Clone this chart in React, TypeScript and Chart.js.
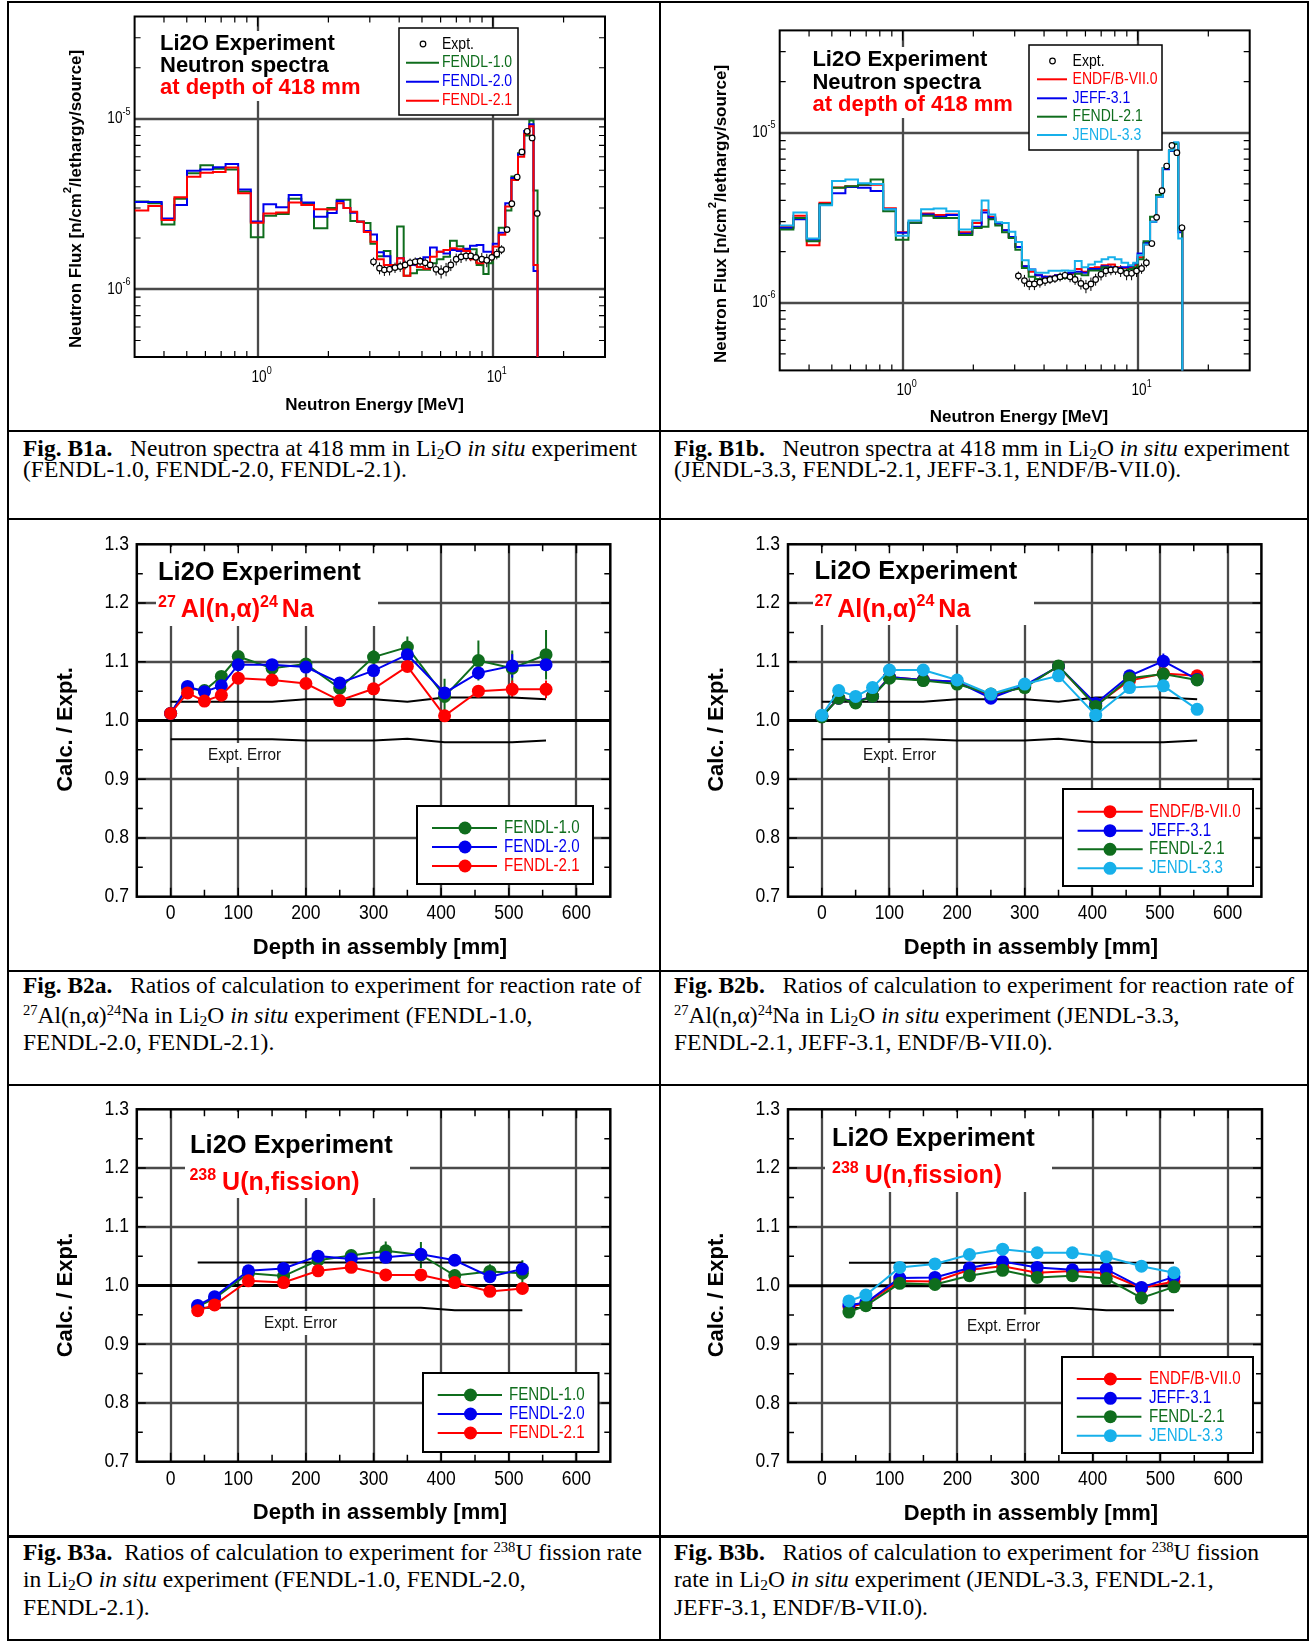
import React, { useEffect, useRef } from 'react';
import { Chart, registerables } from 'chart.js';

Chart.register(...registerables);

/* ---------------- fonts & colours ---------------- */
const SANS = '"Liberation Sans", Arial, Helvetica, sans-serif';
const SERIF = '"Liberation Serif", "Times New Roman", Times, serif';
const GREEN = '#0f6d1d';
const BLUE = '#0000ee';
const RED = '#ff0000';
const CYAN = '#17b0ea';
const GRID = '#4a4a4a';

/* ============ Fig. B1 : neutron spectra at 418 mm ============ */
/* flux values are in units of 1e-6 n/cm2/lethargy/source */
const FLUX_UNIT = 1e-6;
const SPEC_EDGES_MEV = [0.3, 0.343, 0.391, 0.443, 0.501, 0.571, 0.646, 0.731, 0.827, 0.936, 1.059, 1.199, 1.356, 1.535, 1.737,
  1.98, 2.17, 2.32, 2.48, 2.65, 2.83, 3.02, 3.22, 3.44, 3.67, 3.92, 4.18, 4.46, 4.76, 5.07, 5.41, 5.78, 6.17, 6.58, 7.03, 7.5, 8.0, 8.54, 9.12, 9.6,
  10.0, 10.6, 11.3, 12.0, 12.8, 13.6, 14.3, 14.9, 15.5];
const SPEC_TAIL = 1e-9; // beyond the source cut-off (off scale)

const B1A_FENDL10 = [3.28, 3.20, 2.40, 3.40, 4.80, 5.35, 5.10, 5.05, 3.75, 2.02, 2.70, 2.77, 3.40, 3.20, 2.28,
  3.00, 3.36, 3.36, 2.52, 2.50, 2.45, 1.85, 1.56, 1.68, 1.36, 2.34, 1.20, 1.24, 1.30, 1.30, 1.42, 1.50, 1.55, 1.93, 1.79, 1.70, 1.72, 1.39, 1.23, 1.42,
  1.55, 2.30, 2.90, 4.60, 6.30, 8.00, 9.80, 3.80];
const B1A_FENDL20 = [3.25, 3.25, 2.60, 3.13, 4.97, 5.05, 5.20, 5.44, 3.86, 2.50, 3.16, 3.03, 3.58, 3.23, 2.67,
  2.80, 3.30, 3.00, 2.81, 2.49, 2.20, 2.10, 1.65, 1.56, 1.36, 1.52, 1.42, 1.39, 1.50, 1.54, 1.76, 1.66, 1.62, 1.70, 1.68, 1.73, 1.80, 1.82, 1.66, 1.66,
  1.85, 2.15, 3.20, 4.50, 6.20, 8.50, 9.30, 1.28];
const B1A_FENDL21 = [2.90, 3.08, 2.55, 3.47, 4.58, 4.83, 4.88, 5.19, 3.66, 2.46, 2.79, 2.82, 3.23, 3.13, 2.95,
  2.94, 3.20, 3.00, 2.85, 2.49, 2.17, 1.90, 1.50, 1.39, 1.39, 1.52, 1.20, 1.40, 1.35, 1.32, 1.55, 1.66, 1.70, 1.74, 1.72, 1.68, 1.50, 1.42, 1.48, 1.50,
  1.78, 2.09, 3.06, 4.38, 6.00, 8.20, 9.06, 1.39];

const B1B_ENDF70 = [2.80, 3.25, 2.18, 3.87, 4.77, 4.85, 4.92, 4.95, 3.60, 2.60, 2.96, 3.35, 3.28, 3.30, 2.60,
  2.95, 3.50, 3.20, 2.93, 2.67, 2.44, 2.13, 1.64, 1.52, 1.45, 1.42, 1.42, 1.45, 1.45, 1.48, 1.58, 1.52, 1.60, 1.62, 1.66, 1.68, 1.62, 1.60, 1.62, 1.66,
  1.85, 2.20, 3.00, 4.30, 6.20, 7.90, 8.66, 2.68];
const B1B_JEFF31 = [2.75, 3.10, 2.35, 3.80, 4.40, 4.80, 4.75, 4.55, 3.55, 2.58, 2.96, 3.30, 3.20, 3.28, 2.55,
  2.80, 3.40, 3.15, 2.93, 2.67, 2.44, 2.13, 1.64, 1.57, 1.45, 1.42, 1.42, 1.45, 1.45, 1.50, 1.52, 1.50, 1.58, 1.58, 1.64, 1.62, 1.60, 1.62, 1.64, 1.70,
  1.95, 2.25, 3.00, 4.20, 6.10, 7.80, 8.70, 2.60];
const B1B_FENDL21 = [2.70, 3.15, 2.30, 3.80, 4.75, 4.85, 4.95, 5.30, 3.45, 2.35, 2.96, 3.25, 3.15, 3.15, 2.50,
  2.75, 2.80, 3.10, 2.85, 2.60, 2.40, 2.05, 1.60, 1.42, 1.38, 1.36, 1.36, 1.38, 1.40, 1.40, 1.48, 1.45, 1.55, 1.55, 1.62, 1.60, 1.58, 1.55, 1.58, 1.62,
  1.80, 2.30, 3.20, 4.30, 6.20, 7.90, 8.60, 2.70];
const B1B_JENDL33 = [2.85, 3.40, 2.39, 3.75, 5.20, 5.30, 5.05, 5.00, 3.55, 2.48, 3.05, 3.55, 3.59, 3.45, 2.70,
  3.05, 4.00, 3.30, 2.98, 2.95, 2.62, 2.28, 1.78, 1.57, 1.50, 1.50, 1.54, 1.54, 1.55, 1.54, 1.76, 1.62, 1.68, 1.74, 1.80, 1.85, 1.80, 1.72, 1.66, 1.72,
  1.90, 2.20, 3.00, 4.20, 6.20, 7.90, 8.80, 2.39];

const EXPT_ENERGY_MEV = [3.11, 3.30, 3.46, 3.64, 3.84, 4.04, 4.24, 4.45, 4.68, 4.91, 5.16, 5.42, 5.74, 6.03, 6.33, 6.63, 6.99, 7.33, 7.70, 8.06,
  8.47, 8.98, 9.43, 9.90, 10.4, 10.9, 11.5, 12.05, 12.7, 13.3, 14.0, 14.7, 15.45];
const B1A_EXPT = [1.45, 1.33, 1.30, 1.31, 1.34, 1.36, 1.39, 1.43, 1.45, 1.46, 1.43, 1.39, 1.31, 1.27, 1.31, 1.39, 1.50, 1.55, 1.57, 1.57,
  1.54, 1.50, 1.48, 1.54, 1.61, 1.71, 2.24, 3.18, 4.56, 6.41, 8.47, 7.74, 2.79];
const B1B_EXPT = [1.44, 1.35, 1.29, 1.29, 1.32, 1.35, 1.37, 1.39, 1.42, 1.45, 1.42, 1.37, 1.30, 1.25, 1.29, 1.37, 1.47, 1.54, 1.56, 1.57,
  1.54, 1.49, 1.49, 1.54, 1.59, 1.72, 2.23, 3.18, 4.56, 6.37, 8.42, 7.63, 2.76];
const EXPT_REL_ERR = [0.06, 0.08, 0.08, 0.08, 0.07, 0.07, 0.06, 0.06, 0.06, 0.06, 0.07, 0.07, 0.08, 0.09, 0.09, 0.08, 0.08, 0.08, 0.07, 0.07,
  0.08, 0.09, 0.09, 0.08, 0.07, 0.06, 0.04, 0.04, 0.03, 0.03, 0.03, 0.03, 0.05];

const SPEC_X_RANGE = [0.3, 30];
const SPEC_Y_RANGE = [4e-7, 4e-5];
const SPEC_X_MAJOR = [1, 10];
const SPEC_X_MAJOR_EXP = ['0', '1'];
const SPEC_Y_MAJOR = [1e-5, 1e-6];
const SPEC_Y_MAJOR_EXP = ['-5', '-6'];
const SPEC_X_MINOR = [0.4, 0.5, 0.6, 0.7, 0.8, 0.9, 2, 3, 4, 5, 6, 7, 8, 9, 20];
const SPEC_Y_MINOR = [5e-7, 6e-7, 7e-7, 8e-7, 9e-7, 2e-6, 3e-6, 4e-6, 5e-6, 6e-6, 7e-6, 8e-6, 9e-6, 2e-5, 3e-5];
const SPEC_TITLES = ['Li2O Experiment', 'Neutron spectra', 'at depth of 418 mm'];

/* ============ Fig. B2 : 27Al(n,a)24Na ratios ============ */
const AL_DEPTH_MM = [0, 25, 50, 75, 100, 150, 200, 250, 300, 350, 405, 455, 505, 555];
const AL_FENDL10 = [1.012, 1.055, 1.051, 1.075, 1.109, 1.089, 1.096, 1.055, 1.108, 1.125, 1.041, 1.102, 1.089, 1.112];
const AL_FENDL10_ERR = [0, 0, 0, 0, 0.008, 0, 0.006, 0, 0.012, 0.018, 0.03, 0.034, 0.03, 0.042];
const AL_FENDL20 = [1.012, 1.058, 1.049, 1.059, 1.095, 1.095, 1.091, 1.064, 1.085, 1.112, 1.047, 1.081, 1.093, 1.095];
const AL_FENDL20_ERR = [0, 0, 0, 0, 0, 0, 0, 0, 0, 0, 0, 0, 0.02, 0];
const AL_FENDL21 = [1.012, 1.047, 1.033, 1.043, 1.072, 1.069, 1.063, 1.034, 1.054, 1.092, 1.008, 1.050, 1.053, 1.053];
const AL_FENDL21_ERR = [0, 0, 0, 0, 0, 0, 0, 0, 0, 0, 0, 0, 0.015, 0.015];
const AL_ENDF70 = [1.007, 1.038, 1.032, 1.041, 1.074, 1.069, 1.066, 1.042, 1.058, 1.092, 1.026, 1.068, 1.080, 1.076];
const AL_JEFF31 = [1.007, 1.038, 1.032, 1.041, 1.074, 1.069, 1.066, 1.038, 1.060, 1.092, 1.029, 1.076, 1.101, 1.070];
const AL_JEFF31_ERR = [0, 0, 0, 0, 0, 0, 0, 0, 0, 0, 0, 0, 0.013, 0];
const AL_FENDL21B = [1.006, 1.038, 1.030, 1.041, 1.072, 1.068, 1.062, 1.045, 1.056, 1.093, 1.024, 1.072, 1.079, 1.069];
const AL_JENDL33 = [1.009, 1.051, 1.041, 1.056, 1.086, 1.086, 1.069, 1.045, 1.062, 1.076, 1.009, 1.056, 1.059, 1.019];
const AL_EXPT_ERR_X = [0, 150, 200, 300, 350, 405, 505, 555];
const AL_EXPT_ERR_UP = [1.032, 1.032, 1.036, 1.036, 1.032, 1.039, 1.039, 1.036];
const AL_EXPT_ERR_LO = [0.968, 0.968, 0.966, 0.966, 0.969, 0.963, 0.963, 0.966];

/* ============ Fig. B3 : 238U(n,fission) ratios ============ */
const U_DEPTH_MM = [40, 65, 115, 167, 218, 267, 318, 370, 420, 472, 520];
const U_FENDL10 = [0.964, 0.978, 1.021, 1.016, 1.043, 1.051, 1.059, 1.052, 1.017, 1.024, 1.021];
const U_FENDL10_ERR = [0, 0, 0, 0, 0, 0, 0.016, 0.022, 0, 0.012, 0.022];
const U_FENDL20 = [0.966, 0.981, 1.025, 1.029, 1.050, 1.045, 1.048, 1.053, 1.043, 1.015, 1.028];
const U_FENDL21 = [0.957, 0.967, 1.008, 1.005, 1.025, 1.031, 1.018, 1.018, 1.005, 0.990, 0.995];
const U_ENDF70 = [0.964, 0.970, 1.008, 1.007, 1.027, 1.033, 1.022, 1.025, 1.021, 0.996, 1.007];
const U_JEFF31 = [0.967, 0.971, 1.013, 1.014, 1.030, 1.041, 1.031, 1.027, 1.028, 0.997, 1.015];
const U_FENDL21B = [0.955, 0.966, 1.004, 1.002, 1.017, 1.026, 1.014, 1.017, 1.012, 0.979, 0.998];
const U_JENDL33 = [0.974, 0.984, 1.031, 1.037, 1.053, 1.062, 1.056, 1.056, 1.049, 1.033, 1.022];
const U_EXPT_ERR_X = [40, 370, 420, 520];
const U_EXPT_ERR_UP = [1.039, 1.039, 1.039, 1.039];
const U_EXPT_ERR_LO = [0.962, 0.962, 0.958, 0.958];

const RATIO_X_RANGE = [-50, 650];
const RATIO_Y_RANGE = [0.7, 1.3];
const RATIO_X_TICKS = [0, 100, 200, 300, 400, 500, 600];
const RATIO_X_LABELS = ['0', '100', '200', '300', '400', '500', '600'];
const RATIO_X_MINOR = [50, 150, 250, 350, 450, 550];
const RATIO_Y_TICKS = [0.7, 0.8, 0.9, 1.0, 1.1, 1.2, 1.3];
const RATIO_Y_LABELS = ['0.7', '0.8', '0.9', '1.0', '1.1', '1.2', '1.3'];
const RATIO_Y_MINOR = [0.75, 0.85, 0.95, 1.05, 1.15, 1.25];
const RATIO_Y_GRID = [0.8, 0.9, 1.1, 1.2];

const AL_REACTION = [{ t: '27', sup: true, gap: 5 }, { t: 'Al(n,α)' }, { t: '24', sup: true, gap: 4 }, { t: 'Na' }];
const U_REACTION = [{ t: '238', sup: true, gap: 6 }, { t: 'U(n,fission)' }];

/* ---------------- text helper ---------------- */
type Part = { t: string; sup?: boolean; gap?: number };
function drawRich(ctx: any, parts: Part[], x: number, y: number, o: any) {
  const size = o.size, weight = o.weight || 'normal', color = o.color || '#000', align = o.align || 'left';
  const hs = o.hs || 1, family = o.family || SANS, supScale = o.supScale || 0.66, supRise = o.supRise || 0.42;
  ctx.save();
  ctx.fillStyle = color;
  ctx.textBaseline = o.baseline || 'alphabetic';
  ctx.textAlign = 'left';
  const fonts = parts.map((p) => `${weight} ${p.sup ? (size * supScale).toFixed(1) : size}px ${family}`);
  const widths = parts.map((p, i) => { ctx.font = fonts[i]; return ctx.measureText(p.t).width * hs + (p.gap || 0); });
  const total = widths.reduce((a, b) => a + b, 0);
  let cx = align === 'center' ? x - total / 2 : align === 'right' ? x - total : x;
  if (!o.measureOnly) {
    parts.forEach((p, i) => {
      ctx.font = fonts[i];
      ctx.save();
      ctx.translate(cx, p.sup ? y - size * supRise : y);
      ctx.scale(hs, 1);
      ctx.fillText(p.t, 0, 0);
      ctx.restore();
      cx += widths[i];
    });
  }
  ctx.restore();
  return total;
}

function padOf(cfg: any) {
  return {
    left: cfg.plot.l - cfg.box.left,
    top: cfg.plot.t - cfg.box.top,
    right: cfg.box.left + cfg.box.width - cfg.plot.r,
    bottom: cfg.box.top + cfg.box.height - cfg.plot.b,
  };
}

function gridStyle(ctx: any) {
  ctx.strokeStyle = GRID; ctx.lineWidth = 2.3; ctx.setLineDash([]);
}

/* ---------------- spectrum chart ---------------- */
function specPlugin(cfg: any) {
  const X = (v: number) => v - cfg.box.left;
  const Y = (v: number) => v - cfg.box.top;
  return {
    id: 'specDeco',
    beforeDatasetsDraw(chart: any) {
      const { ctx, chartArea: a } = chart;
      const xs = chart.scales.x, ys = chart.scales.y;
      ctx.save();
      gridStyle(ctx);
      ctx.beginPath();
      SPEC_X_MAJOR.forEach((v) => { const p = Math.round(xs.getPixelForValue(v)); ctx.moveTo(p, a.top); ctx.lineTo(p, a.bottom); });
      SPEC_Y_MAJOR.forEach((v) => { const p = Math.round(ys.getPixelForValue(v)); ctx.moveTo(a.left, p); ctx.lineTo(a.right, p); });
      ctx.stroke();
      // opaque title block
      const tw = Math.max(...SPEC_TITLES.map((t) => drawRich(ctx, [{ t }], 0, 0, { size: 22, weight: 'bold', measureOnly: true })));
      ctx.fillStyle = '#fff';
      ctx.fillRect(X(cfg.titleX) - 4, Y(cfg.titleYs[0]) - 19, tw + 8, cfg.titleYs[2] - cfg.titleYs[0] + 26);
      ctx.strokeStyle = '#000'; ctx.lineWidth = 1.2;
      ctx.beginPath();
      SPEC_X_MINOR.forEach((v) => { const p = xs.getPixelForValue(v); ctx.moveTo(p, a.bottom); ctx.lineTo(p, a.bottom - 6); ctx.moveTo(p, a.top); ctx.lineTo(p, a.top + 6); });
      SPEC_Y_MINOR.forEach((v) => { const p = ys.getPixelForValue(v); ctx.moveTo(a.left, p); ctx.lineTo(a.left + 6, p); ctx.moveTo(a.right, p); ctx.lineTo(a.right - 6, p); });
      SPEC_X_MAJOR.forEach((v) => { const p = xs.getPixelForValue(v); ctx.moveTo(p, a.top); ctx.lineTo(p, a.top + 10); });
      ctx.stroke();
      ctx.lineWidth = 2;
      ctx.strokeRect(a.left, a.top, a.right - a.left, a.bottom - a.top);
      // tick labels
      SPEC_X_MAJOR.forEach((v, i) => drawRich(ctx, [{ t: '10' }, { t: SPEC_X_MAJOR_EXP[i], sup: true }], xs.getPixelForValue(v) + 4, Y(cfg.xLabelY),
        { size: 16, align: 'center', hs: 0.85, baseline: 'middle', supRise: 0.45 }));
      SPEC_Y_MAJOR.forEach((v, i) => drawRich(ctx, [{ t: '10' }, { t: SPEC_Y_MAJOR_EXP[i], sup: true }], X(cfg.yLabelRight), ys.getPixelForValue(v),
        { size: 16, align: 'right', hs: 0.85, baseline: 'middle', supRise: 0.45 }));
      // axis titles
      drawRich(ctx, [{ t: 'Neutron Energy [MeV]' }], X(cfg.xTitle.x), Y(cfg.xTitle.y), { size: 17, weight: 'bold', align: 'center', baseline: 'middle' });
      ctx.save();
      ctx.translate(X(cfg.yTitle.x), Y(cfg.yTitle.y));
      ctx.rotate(-Math.PI / 2);
      drawRich(ctx, [{ t: 'Neutron Flux [n/cm' }, { t: '2', sup: true }, { t: '/lethargy/source]' }], 0, 0,
        { size: 17, weight: 'bold', align: 'center', baseline: 'middle', supRise: 0.45 });
      ctx.restore();
      // titles
      SPEC_TITLES.forEach((t, i) => drawRich(ctx, [{ t }], X(cfg.titleX), Y(cfg.titleYs[i]), { size: 22, weight: 'bold', color: i === 2 ? RED : '#000' }));
      // experimental error bars
      ctx.strokeStyle = '#000'; ctx.lineWidth = 1;
      ctx.beginPath();
      EXPT_ENERGY_MEV.forEach((e, k) => {
        const f = cfg.expt[k] * FLUX_UNIT, px = xs.getPixelForValue(e);
        ctx.moveTo(px, ys.getPixelForValue(f * (1 - EXPT_REL_ERR[k])));
        ctx.lineTo(px, ys.getPixelForValue(f * (1 + EXPT_REL_ERR[k])));
      });
      ctx.stroke();
      ctx.restore();
    },
    afterDatasetsDraw(chart: any) {
      const ctx = chart.ctx, L = cfg.legend;
      ctx.save();
      ctx.fillStyle = '#fff';
      ctx.fillRect(X(L.l), Y(L.t), L.r - L.l, L.b - L.t);
      ctx.strokeStyle = '#000'; ctx.lineWidth = 1.5;
      ctx.strokeRect(X(L.l), Y(L.t), L.r - L.l, L.b - L.t);
      ctx.beginPath(); ctx.arc(X(L.markerX), Y(L.exptY), 2.8, 0, Math.PI * 2);
      ctx.fillStyle = '#fff'; ctx.fill(); ctx.lineWidth = 1.2; ctx.stroke();
      drawRich(ctx, [{ t: 'Expt.' }], X(L.textX), Y(L.exptY), { size: 16.5, hs: 0.85, baseline: 'middle' });
      cfg.series.forEach((s: any, i: number) => {
        const y = Y(L.ys[i]);
        ctx.strokeStyle = s.color; ctx.lineWidth = 2;
        ctx.beginPath(); ctx.moveTo(X(L.lineX1), y); ctx.lineTo(X(L.lineX2), y); ctx.stroke();
        drawRich(ctx, [{ t: s.label }], X(L.textX), y, { size: 16.5, hs: 0.85, baseline: 'middle', color: s.color });
      });
      ctx.restore();
    },
  };
}

function buildSpectrum(canvas: HTMLCanvasElement, cfg: any) {
  const datasets: any[] = [{
    label: 'Expt.',
    data: EXPT_ENERGY_MEV.map((e, k) => ({ x: e, y: cfg.expt[k] * FLUX_UNIT })),
    showLine: false, borderColor: '#000',
    pointRadius: 2.8, pointHoverRadius: 2.8, pointBackgroundColor: '#fff', pointBorderColor: '#000', pointBorderWidth: 1.2,
  }];
  cfg.drawOrder.forEach((i: number) => {
    const s = cfg.series[i];
    datasets.push({
      label: s.label,
      data: SPEC_EDGES_MEV.map((e, k) => ({ x: e, y: k < s.values.length ? s.values[k] * FLUX_UNIT : SPEC_TAIL })),
      stepped: 'before', borderColor: s.color, backgroundColor: s.color, borderWidth: 2, pointRadius: 0, fill: false,
    });
  });
  return new Chart(canvas, {
    type: 'line',
    data: { datasets },
    options: {
      responsive: false, animation: false, devicePixelRatio: 1, events: [],
      layout: { padding: padOf(cfg) },
      plugins: { legend: { display: false }, tooltip: { enabled: false } },
      scales: {
        x: { type: 'logarithmic', min: SPEC_X_RANGE[0], max: SPEC_X_RANGE[1], display: false },
        y: { type: 'logarithmic', min: SPEC_Y_RANGE[0], max: SPEC_Y_RANGE[1], display: false },
      },
    },
    plugins: [specPlugin(cfg)],
  } as any);
}

/* ---------------- ratio chart ---------------- */
function ratioPlugin(cfg: any) {
  const X = (v: number) => v - cfg.box.left;
  const Y = (v: number) => v - cfg.box.top;
  return {
    id: 'ratioDeco',
    beforeDatasetsDraw(chart: any) {
      const { ctx, chartArea: a } = chart;
      const xs = chart.scales.x, ys = chart.scales.y;
      ctx.save();
      gridStyle(ctx);
      ctx.beginPath();
      RATIO_X_TICKS.forEach((v) => { const p = Math.round(xs.getPixelForValue(v)); ctx.moveTo(p, a.top); ctx.lineTo(p, a.bottom); });
      RATIO_Y_GRID.forEach((v) => { const p = Math.round(ys.getPixelForValue(v)); ctx.moveTo(a.left, p); ctx.lineTo(a.right, p); });
      ctx.stroke();
      // white panel behind the title
      ctx.fillStyle = '#fff';
      ctx.fillRect(X(cfg.bg.l), Y(cfg.bg.t), cfg.bg.r - cfg.bg.l, cfg.bg.b - cfg.bg.t);
      // unity line
      ctx.strokeStyle = '#000'; ctx.lineWidth = 3;
      const p1 = ys.getPixelForValue(1.0);
      ctx.beginPath(); ctx.moveTo(a.left, p1); ctx.lineTo(a.right, p1); ctx.stroke();
      // ticks
      ctx.lineWidth = 1.5;
      ctx.beginPath();
      RATIO_X_TICKS.forEach((v) => { const p = xs.getPixelForValue(v); ctx.moveTo(p, a.top); ctx.lineTo(p, a.top + 9); ctx.moveTo(p, a.bottom); ctx.lineTo(p, a.bottom - 9); });
      RATIO_X_MINOR.forEach((v) => { const p = xs.getPixelForValue(v); ctx.moveTo(p, a.top); ctx.lineTo(p, a.top + 7); ctx.moveTo(p, a.bottom); ctx.lineTo(p, a.bottom - 7); });
      RATIO_Y_TICKS.forEach((v) => { const p = ys.getPixelForValue(v); ctx.moveTo(a.left, p); ctx.lineTo(a.left + 9, p); ctx.moveTo(a.right, p); ctx.lineTo(a.right - 9, p); });
      RATIO_Y_MINOR.forEach((v) => { const p = ys.getPixelForValue(v); ctx.moveTo(a.left, p); ctx.lineTo(a.left + 6, p); ctx.moveTo(a.right, p); ctx.lineTo(a.right - 6, p); });
      ctx.stroke();
      ctx.lineWidth = 2.5;
      ctx.strokeRect(a.left, a.top, a.right - a.left, a.bottom - a.top);
      // tick labels
      RATIO_X_TICKS.forEach((v, i) => drawRich(ctx, [{ t: RATIO_X_LABELS[i] }], xs.getPixelForValue(v), Y(cfg.xLabelY),
        { size: 19.5, align: 'center', hs: 0.9, baseline: 'middle' }));
      RATIO_Y_TICKS.forEach((v, i) => drawRich(ctx, [{ t: RATIO_Y_LABELS[i] }], X(cfg.yLabelRight), ys.getPixelForValue(v),
        { size: 19.5, align: 'right', hs: 0.9, baseline: 'middle' }));
      // axis titles
      drawRich(ctx, [{ t: 'Depth in assembly [mm]' }], X(cfg.xTitle.x), Y(cfg.xTitle.y), { size: 22, weight: 'bold', align: 'center', baseline: 'middle' });
      ctx.save();
      ctx.translate(X(cfg.yTitle.x), Y(cfg.yTitle.y));
      ctx.rotate(-Math.PI / 2);
      drawRich(ctx, [{ t: 'Calc. / Expt.' }], 0, 0, { size: 22, weight: 'bold', align: 'center', baseline: 'middle' });
      ctx.restore();
      // titles
      drawRich(ctx, [{ t: 'Li2O Experiment' }], X(cfg.titleX), Y(cfg.titleY), { size: 25.5, weight: 'bold' });
      drawRich(ctx, cfg.reaction, X(cfg.reactionX), Y(cfg.reactionY), { size: 25, weight: 'bold', color: RED, supScale: 0.64, supRise: 0.42 });
      // "Expt. Error" label
      ctx.font = `17px ${SANS}`;
      const w = ctx.measureText('Expt. Error').width * 0.9;
      ctx.fillStyle = '#fff';
      ctx.fillRect(X(cfg.exptLabel.x) - 3, Y(cfg.exptLabel.y) - 12, w + 6, 24);
      drawRich(ctx, [{ t: 'Expt. Error' }], X(cfg.exptLabel.x), Y(cfg.exptLabel.y), { size: 17, hs: 0.9, baseline: 'middle', color: '#111' });
      // calculation error bars
      ctx.lineWidth = 2;
      cfg.series.forEach((s: any) => {
        if (!s.err) return;
        ctx.strokeStyle = s.color;
        ctx.beginPath();
        cfg.depth.forEach((d: number, k: number) => {
          if (!s.err[k]) return;
          const px = xs.getPixelForValue(d);
          ctx.moveTo(px, ys.getPixelForValue(s.values[k] - s.err[k]));
          ctx.lineTo(px, ys.getPixelForValue(s.values[k] + s.err[k]));
        });
        ctx.stroke();
      });
      ctx.restore();
    },
    afterDatasetsDraw(chart: any) {
      const ctx = chart.ctx, L = cfg.legend;
      ctx.save();
      ctx.fillStyle = '#fff';
      ctx.fillRect(X(L.l), Y(L.t), L.r - L.l, L.b - L.t);
      ctx.strokeStyle = '#000'; ctx.lineWidth = 2;
      ctx.strokeRect(X(L.l), Y(L.t), L.r - L.l, L.b - L.t);
      cfg.series.forEach((s: any, i: number) => {
        const y = Y(L.ys[i]);
        ctx.strokeStyle = s.color; ctx.lineWidth = 2;
        ctx.beginPath(); ctx.moveTo(X(L.lineX1), y); ctx.lineTo(X(L.lineX2), y); ctx.stroke();
        ctx.fillStyle = s.color;
        ctx.beginPath(); ctx.arc(X(L.markerX), y, 6.5, 0, Math.PI * 2); ctx.fill();
        drawRich(ctx, [{ t: s.label }], X(L.textX), y, { size: 18, hs: 0.84, baseline: 'middle', color: s.color });
      });
      ctx.restore();
    },
  };
}

function buildRatio(canvas: HTMLCanvasElement, cfg: any) {
  const datasets: any[] = [];
  cfg.drawOrder.forEach((i: number) => {
    const s = cfg.series[i];
    datasets.push({
      label: s.label,
      data: cfg.depth.map((d: number, k: number) => ({ x: d, y: s.values[k] })),
      borderColor: s.color, backgroundColor: s.color, borderWidth: 2, tension: 0, fill: false,
      pointRadius: 6.5, pointHoverRadius: 6.5, pointBackgroundColor: s.color, pointBorderColor: s.color, pointBorderWidth: 0,
    });
  });
  datasets.push({
    label: 'Expt. error +', data: cfg.errX.map((d: number, k: number) => ({ x: d, y: cfg.errUp[k] })),
    borderColor: '#000', borderWidth: 2, pointRadius: 0, fill: false, tension: 0,
  });
  datasets.push({
    label: 'Expt. error -', data: cfg.errX.map((d: number, k: number) => ({ x: d, y: cfg.errLo[k] })),
    borderColor: '#000', borderWidth: 2, pointRadius: 0, fill: false, tension: 0,
  });
  return new Chart(canvas, {
    type: 'line',
    data: { datasets },
    options: {
      responsive: false, animation: false, devicePixelRatio: 1, events: [],
      layout: { padding: padOf(cfg) },
      plugins: { legend: { display: false }, tooltip: { enabled: false } },
      scales: {
        x: { type: 'linear', min: RATIO_X_RANGE[0], max: RATIO_X_RANGE[1], display: false },
        y: { type: 'linear', min: RATIO_Y_RANGE[0], max: RATIO_Y_RANGE[1], display: false },
      },
    },
    plugins: [ratioPlugin(cfg)],
  } as any);
}

/* ---------------- panel configurations (page coordinates) ---------------- */
const B1A_CFG = {
  box: { left: 9, top: 3, width: 650, height: 427 },
  plot: { l: 134.6, t: 16.5, r: 605, b: 357 },
  series: [
    { label: 'FENDL-1.0', color: GREEN, values: B1A_FENDL10 },
    { label: 'FENDL-2.0', color: BLUE, values: B1A_FENDL20 },
    { label: 'FENDL-2.1', color: RED, values: B1A_FENDL21 },
  ],
  drawOrder: [2, 1, 0],
  expt: B1A_EXPT,
  titleX: 160, titleYs: [50, 72, 94],
  legend: { l: 399, t: 28, r: 518, b: 115, markerX: 423, exptY: 44, lineX1: 406, lineX2: 439, textX: 442, ys: [62.7, 81.7, 100.7] },
  xLabelY: 378, yLabelRight: 130.5,
  xTitle: { x: 374.6, y: 405 }, yTitle: { x: 76, y: 199 },
};
const B1B_CFG = {
  box: { left: 661, top: 3, width: 647, height: 427 },
  plot: { l: 779.7, t: 30.4, r: 1249.7, b: 370.4 },
  series: [
    { label: 'ENDF/B-VII.0', color: RED, values: B1B_ENDF70 },
    { label: 'JEFF-3.1', color: BLUE, values: B1B_JEFF31 },
    { label: 'FENDL-2.1', color: GREEN, values: B1B_FENDL21 },
    { label: 'JENDL-3.3', color: CYAN, values: B1B_JENDL33 },
  ],
  drawOrder: [3, 2, 1, 0],
  expt: B1B_EXPT,
  titleX: 812.4, titleYs: [66, 89, 111],
  legend: { l: 1029, t: 45, r: 1162, b: 150, markerX: 1052.5, exptY: 61, lineX1: 1037, lineX2: 1067, textX: 1072.6, ys: [79.3, 98.3, 116.7, 135] },
  xLabelY: 391, yLabelRight: 775.5,
  xTitle: { x: 1019, y: 417 }, yTitle: { x: 721, y: 214 },
};
const B2A_CFG = {
  box: { left: 9, top: 521, width: 650, height: 449 },
  plot: { l: 136.8, t: 544.3, r: 610.3, b: 896.7 },
  depth: AL_DEPTH_MM,
  series: [
    { label: 'FENDL-1.0', color: GREEN, values: AL_FENDL10, err: AL_FENDL10_ERR },
    { label: 'FENDL-2.0', color: BLUE, values: AL_FENDL20, err: AL_FENDL20_ERR },
    { label: 'FENDL-2.1', color: RED, values: AL_FENDL21, err: AL_FENDL21_ERR },
  ],
  drawOrder: [2, 1, 0],
  errX: AL_EXPT_ERR_X, errUp: AL_EXPT_ERR_UP, errLo: AL_EXPT_ERR_LO,
  bg: { l: 156, t: 547, r: 378, b: 626 },
  titleX: 158, titleY: 580,
  reaction: AL_REACTION, reactionX: 158, reactionY: 617,
  exptLabel: { x: 208, y: 755 },
  legend: { l: 417, t: 806, r: 593, b: 884, ys: [828, 847, 866], lineX1: 432, lineX2: 497, markerX: 465, textX: 504 },
  xLabelY: 914, yLabelRight: 129,
  xTitle: { x: 380, y: 947.5 }, yTitle: { x: 66, y: 729.5 },
};
const B2B_CFG = {
  box: { left: 661, top: 521, width: 647, height: 449 },
  plot: { l: 788, t: 544.3, r: 1261.4, b: 896.7 },
  depth: AL_DEPTH_MM,
  series: [
    { label: 'ENDF/B-VII.0', color: RED, values: AL_ENDF70 },
    { label: 'JEFF-3.1', color: BLUE, values: AL_JEFF31, err: AL_JEFF31_ERR },
    { label: 'FENDL-2.1', color: GREEN, values: AL_FENDL21B },
    { label: 'JENDL-3.3', color: CYAN, values: AL_JENDL33 },
  ],
  drawOrder: [3, 2, 1, 0],
  errX: AL_EXPT_ERR_X, errUp: AL_EXPT_ERR_UP, errLo: AL_EXPT_ERR_LO,
  bg: { l: 813, t: 547, r: 1034, b: 625 },
  titleX: 814.5, titleY: 579.3,
  reaction: AL_REACTION, reactionX: 814.5, reactionY: 616.7,
  exptLabel: { x: 863, y: 755 },
  legend: { l: 1063, t: 789, r: 1253, b: 886, ys: [811.7, 830.7, 849.3, 868.3], lineX1: 1077.6, lineX2: 1142.7, markerX: 1110, textX: 1149 },
  xLabelY: 914, yLabelRight: 780,
  xTitle: { x: 1031, y: 947.5 }, yTitle: { x: 717, y: 729.5 },
};
const B3A_CFG = {
  box: { left: 9, top: 1086, width: 650, height: 449 },
  plot: { l: 136.8, t: 1109.3, r: 610.3, b: 1461.7 },
  depth: U_DEPTH_MM,
  series: [
    { label: 'FENDL-1.0', color: GREEN, values: U_FENDL10, err: U_FENDL10_ERR },
    { label: 'FENDL-2.0', color: BLUE, values: U_FENDL20 },
    { label: 'FENDL-2.1', color: RED, values: U_FENDL21 },
  ],
  drawOrder: [2, 1, 0],
  errX: U_EXPT_ERR_X, errUp: U_EXPT_ERR_UP, errLo: U_EXPT_ERR_LO,
  bg: { l: 185, t: 1112, r: 410, b: 1198 },
  titleX: 190, titleY: 1153,
  reaction: U_REACTION, reactionX: 189.4, reactionY: 1190,
  exptLabel: { x: 264, y: 1323 },
  legend: { l: 423, t: 1373, r: 598.5, b: 1452, ys: [1395, 1414, 1433], lineX1: 437.7, lineX2: 502, markerX: 470.5, textX: 509 },
  xLabelY: 1479.5, yLabelRight: 129,
  xTitle: { x: 380, y: 1513 }, yTitle: { x: 66, y: 1295 },
};
const B3B_CFG = {
  box: { left: 661, top: 1086, width: 647, height: 449 },
  plot: { l: 788, t: 1109.3, r: 1262, b: 1462 },
  depth: U_DEPTH_MM,
  series: [
    { label: 'ENDF/B-VII.0', color: RED, values: U_ENDF70 },
    { label: 'JEFF-3.1', color: BLUE, values: U_JEFF31 },
    { label: 'FENDL-2.1', color: GREEN, values: U_FENDL21B },
    { label: 'JENDL-3.3', color: CYAN, values: U_JENDL33 },
  ],
  drawOrder: [3, 2, 1, 0],
  errX: U_EXPT_ERR_X, errUp: U_EXPT_ERR_UP, errLo: U_EXPT_ERR_LO,
  bg: { l: 825, t: 1112, r: 1052, b: 1192 },
  titleX: 832, titleY: 1146,
  reaction: U_REACTION, reactionX: 832, reactionY: 1183,
  exptLabel: { x: 967, y: 1326.5 },
  legend: { l: 1062, t: 1357, r: 1253, b: 1453, ys: [1379, 1398.3, 1416.7, 1435.7], lineX1: 1076.8, lineX2: 1141.4, markerX: 1110.4, textX: 1149 },
  xLabelY: 1480, yLabelRight: 780,
  xTitle: { x: 1031, y: 1513.5 }, yTitle: { x: 717, y: 1295 },
};

/* ---------------- React components ---------------- */
function ChartCanvas({ cfg, kind }: { cfg: any; kind: 'spec' | 'ratio' }) {
  const ref = useRef<HTMLCanvasElement | null>(null);
  useEffect(() => {
    if (!ref.current) return;
    const chart = kind === 'spec' ? buildSpectrum(ref.current, cfg) : buildRatio(ref.current, cfg);
    return () => chart.destroy();
  }, [cfg, kind]);
  const b = cfg.box;
  return (
    <canvas ref={ref} width={b.width} height={b.height}
      style={{ position: 'absolute', left: b.left, top: b.top, width: b.width, height: b.height }} />
  );
}

const Sub = ({ c }: { c: string }) => <span style={{ fontSize: '0.66em', verticalAlign: '-0.22em', lineHeight: 0 }}>{c}</span>;
const Sup = ({ c }: { c: string }) => <span style={{ fontSize: '0.62em', verticalAlign: '0.55em', lineHeight: 0 }}>{c}</span>;
const GAP3 = '\u00a0\u00a0\u00a0';
const GAP2 = '\u00a0\u00a0';

const CAP_B1A = [
  <><b>Fig. B1a.</b>{GAP3 + 'Neutron spectra at 418 mm in Li'}<Sub c="2" />O <i>in situ</i> experiment</>,
  <>(FENDL-1.0, FENDL-2.0, FENDL-2.1).</>,
];
const CAP_B1B = [
  <><b>Fig. B1b.</b>{GAP3 + 'Neutron spectra at 418 mm in Li'}<Sub c="2" />O <i>in situ</i> experiment</>,
  <>(JENDL-3.3, FENDL-2.1, JEFF-3.1, ENDF/B-VII.0).</>,
];
const CAP_B2A = [
  <><b>Fig. B2a.</b>{GAP3 + 'Ratios of calculation to experiment for reaction rate of'}</>,
  <><Sup c="27" />Al(n,α)<Sup c="24" />Na in Li<Sub c="2" />O <i>in situ</i> experiment (FENDL-1.0,</>,
  <>FENDL-2.0, FENDL-2.1).</>,
];
const CAP_B2B = [
  <><b>Fig. B2b.</b>{GAP3 + 'Ratios of calculation to experiment for reaction rate of'}</>,
  <><Sup c="27" />Al(n,α)<Sup c="24" />Na in Li<Sub c="2" />O <i>in situ</i> experiment (JENDL-3.3,</>,
  <>FENDL-2.1, JEFF-3.1, ENDF/B-VII.0).</>,
];
const CAP_B3A = [
  <><b>Fig. B3a.</b>{GAP2 + 'Ratios of calculation to experiment for '}<Sup c="238" />U fission rate</>,
  <>in Li<Sub c="2" />O <i>in situ</i> experiment (FENDL-1.0, FENDL-2.0,</>,
  <>FENDL-2.1).</>,
];
const CAP_B3B = [
  <><b>Fig. B3b.</b>{GAP3 + 'Ratios of calculation to experiment for '}<Sup c="238" />U fission</>,
  <>rate in Li<Sub c="2" />O <i>in situ</i> experiment (JENDL-3.3, FENDL-2.1,</>,
  <>JEFF-3.1, ENDF/B-VII.0).</>,
];

function Caption({ x, ys, lines }: { x: number; ys: number[]; lines: any[] }) {
  return (
    <>
      {lines.map((ln, i) => (
        <div key={i} style={{
          position: 'absolute', left: x, top: ys[i] - 13, height: 26, lineHeight: '26px',
          fontFamily: SERIF, fontSize: '23.5px', whiteSpace: 'nowrap', color: '#000',
        }}>{ln}</div>
      ))}
    </>
  );
}

const H_RULES = [
  { top: 1, h: 2 }, { top: 430, h: 2 }, { top: 518, h: 2 }, { top: 970, h: 2 },
  { top: 1084, h: 2 }, { top: 1535, h: 3 }, { top: 1639, h: 2 },
];
const V_RULES = [7, 659, 1307];

export default function App() {
  return (
    <div style={{ position: 'absolute', left: 0, top: 0, width: 1316, height: 1641, background: '#fff', overflow: 'hidden' }}>
      <ChartCanvas cfg={B1A_CFG} kind="spec" />
      <ChartCanvas cfg={B1B_CFG} kind="spec" />
      <ChartCanvas cfg={B2A_CFG} kind="ratio" />
      <ChartCanvas cfg={B2B_CFG} kind="ratio" />
      <ChartCanvas cfg={B3A_CFG} kind="ratio" />
      <ChartCanvas cfg={B3B_CFG} kind="ratio" />
      <Caption x={23} ys={[448, 469]} lines={CAP_B1A} />
      <Caption x={674} ys={[448, 469]} lines={CAP_B1B} />
      <Caption x={23} ys={[985, 1015, 1042]} lines={CAP_B2A} />
      <Caption x={674} ys={[985, 1015, 1042]} lines={CAP_B2B} />
      <Caption x={23} ys={[1552, 1579, 1607]} lines={CAP_B3A} />
      <Caption x={674} ys={[1552, 1579, 1607]} lines={CAP_B3B} />
      {H_RULES.map((r, i) => (
        <div key={'h' + i} style={{ position: 'absolute', left: 7, top: r.top, width: 1302, height: r.h, background: '#000' }} />
      ))}
      {V_RULES.map((x, i) => (
        <div key={'v' + i} style={{ position: 'absolute', left: x, top: 1, width: 2, height: 1640, background: '#000' }} />
      ))}
    </div>
  );
}
